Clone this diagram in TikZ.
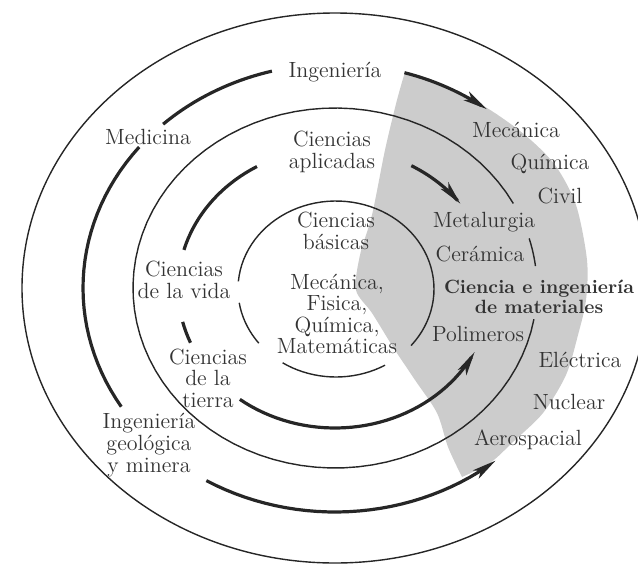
\documentclass[tikz,border=0pt]{standalone}
\usepackage{fontspec}
\usepackage{tikz}
\usetikzlibrary{arrows.meta, positioning}

\begin{document}
\begin{tikzpicture}[x=0.5pt, y=-0.5pt,
    thinline/.style={black!85, line width=0.7pt},
    flow/.style={black!85, line width=1.6pt},
    flowarrow/.style={flow, -{Stealth[length=12pt, width=5pt, inset=3pt]}},
    area/.style={text=black!80, inner sep=0pt, align=center,
        font=\fontsize{11}{10.8}\selectfont},
    mainarea/.style={area, font=\fontsize{9.6}{10}\selectfont\bfseries}]

    \useasboundingbox (0,0) rectangle (638,563);
    \clip (0,0) rectangle (638,563);

    % ============================================================
    % MATERIALS SCIENCE REGION (SHADED)
    % ============================================================
    \fill[gray!40]
        plot[smooth] coordinates {(405,72) (447,88) (487,108) (525,135)
            (555,165) (576,205) (587,260) (586,300) (578,335) (566,375)
            (543,413) (514,441) (490,463) (462,477)}
        -- plot[smooth] coordinates {(462,477) (448,447) (437,413)
            (415,380) (393,347) (372,313) (356,290) (360,255) (372,215)
            (385,150) (397,100) (405,72)}
        -- cycle;

    % ============================================================
    % THREE RINGS
    % ============================================================
    \draw[thinline] (335,288) ellipse [x radius=313, y radius=275];
    \draw[thinline] plot[domain=10:332, samples=80]
        ({335+202*cos(\x)}, {288+180*sin(\x)});
    \draw[thinline] plot[domain=-16:-7, samples=6]
        ({335+202*cos(\x)}, {288+180*sin(\x)});
    \draw[thinline] plot[domain=-175:40, samples=60]
        ({336+98*cos(\x)}, {289+88*sin(\x)});
    \draw[thinline] plot[domain=60:123, samples=20]
        ({336+98*cos(\x)}, {289+88*sin(\x)});
    \draw[thinline] plot[domain=142:171, samples=10]
        ({336+98*cos(\x)}, {289+88*sin(\x)});

    % ============================================================
    % OUTER FLOW (ENGINEERING)
    % ============================================================
    \draw[flow] plot[domain=-133:-104.5, samples=20]
        ({335+252*cos(\x)}, {288+224*sin(\x)});
    \draw[flowarrow] plot[domain=-74:-53, samples=15]
        ({335+252*cos(\x)}, {288+224*sin(\x)});
    \draw[flow] plot[domain=148:219, samples=30]
        ({335+252*cos(\x)}, {288+224*sin(\x)});
    \draw[flowarrow] plot[domain=120.7:50.4, samples=30]
        ({335+252*cos(\x)}, {288+224*sin(\x)});

    % ============================================================
    % INNER FLOW (APPLIED SCIENCES)
    % ============================================================
    \draw[flow] plot[domain=-119.8:-164.2, samples=20]
        ({335+157*cos(\x)}, {288+140*sin(\x)});
    \draw[flowarrow] plot[domain=-60.9:-37, samples=15]
        ({335+157*cos(\x)}, {288+140*sin(\x)});
    \draw[flow] plot[domain=166:157, samples=5]
        ({335+157*cos(\x)}, {288+140*sin(\x)});
    \draw[flowarrow] plot[domain=127.3:27.2, samples=40]
        ({335+157*cos(\x)}, {288+140*sin(\x)});

    % ============================================================
    % LABELS
    % ============================================================
    \node[area] (ing) at (335,72) {Ingeniería};
    \node[area] (med) at (148,137) {Medicina};
    \node[area] (apl) at (332,152) {Ciencias\\aplicadas};
    \node[area] (bas) at (336,231) {Ciencias\\básicas};
    \node[area] (base) at (337,314) {Mecánica,\\Fisica,\\Química,\\Matemáticas};
    \node[area] (vida) at (184,280) {Ciencias\\de la vida};
    \node[area] (tierra) at (208,378) {Ciencias\\de la\\tierra};
    \node[area] (geo) at (149,445) {Ingeniería\\geológica\\y minera};

    % branches of engineering
    \node[area] (mec) at (516,130) {Mecánica};
    \node[area] (qui) at (550,164) {Química};
    \node[area] (civ) at (560,196) {Civil};
    \node[area] (ele) at (580,360) {Eléctrica};
    \node[area] (nuc) at (569,402) {Nuclear};
    \node[area] (aer) at (528,440) {Aerospacial};

    % materials
    \node[area] (met) at (484,222) {Metalurgia};
    \node[area] (cer) at (480,254) {Cerámica};
    \node[mainarea] (cim) at (539,297) {Ciencia e ingeniería\\de materiales};
    \node[area] (pol) at (478,334) {Polimeros};

\end{tikzpicture}
\end{document}
